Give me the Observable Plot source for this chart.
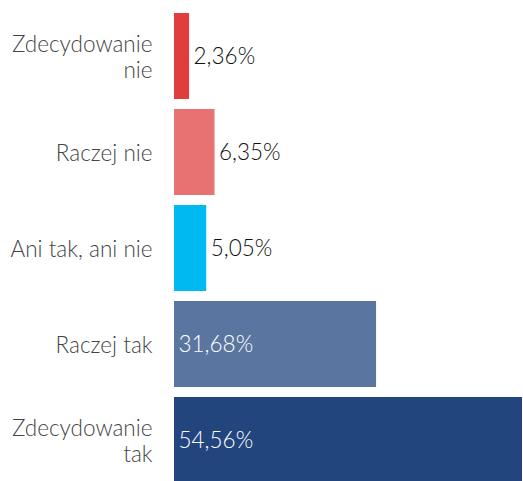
<!DOCTYPE html>
<html><head><meta charset="utf-8">
<script src="https://cdn.jsdelivr.net/npm/d3@7"></script>
<script src="https://cdn.jsdelivr.net/npm/@observablehq/plot@0.6"></script>
<style>body{margin:0;background:#fff;overflow:hidden}</style>
</head><body><div id="chart"></div>
<script>
const categories = ["Zdecydowanie\nnie", "Raczej nie", "Ani tak, ani nie", "Raczej tak", "Zdecydowanie\ntak"];
const values = [2.36, 6.35, 5.05, 31.68, 54.56];
const colors = ["#E03D3D", "#E87272", "#00B9F0", "#5A75A0", "#22457E"];
const inside = [false, false, false, true, true];
const data = categories.map((c, i) => ({c, v: values[i], col: colors[i], inside: inside[i]}));
const fmt = v => v.toFixed(2).replace(".", ",") + "%";
const chart = Plot.plot({
  width: 523, height: 481,
  marginLeft: 174, marginRight: 1, marginTop: 0, marginBottom: 0,
  style: {fontFamily: "Lato, sans-serif", fontSize: "22.5px", fontWeight: 300, background: "white"},
  x: {domain: [0, 54.56], range: [174, 522], axis: null},
  y: {domain: categories, range: [7, 489], paddingInner: 0.1, paddingOuter: 0.05, label: null},
  marks: [
    Plot.barX(data, {y: "c", x: "v", fill: "col"}),
    Plot.axisY({tickSize: 0, tickPadding: 22, fontSize: 22.5, fontWeight: 300, fill: "#444", lineHeight: 1.15, label: null}),
    Plot.text(data.filter(d => !d.inside), {y: "c", x: "v", text: d => fmt(d.v), textAnchor: "start", dx: 4, fill: "#111", fontSize: 22.5, fontWeight: 300}),
    Plot.text(data.filter(d => d.inside), {y: "c", x: 0, text: d => fmt(d.v), textAnchor: "start", dx: 4, fill: "white", fontSize: 22.5, fontWeight: 300})
  ]
});
document.getElementById("chart").append(chart);
</script></body></html>
